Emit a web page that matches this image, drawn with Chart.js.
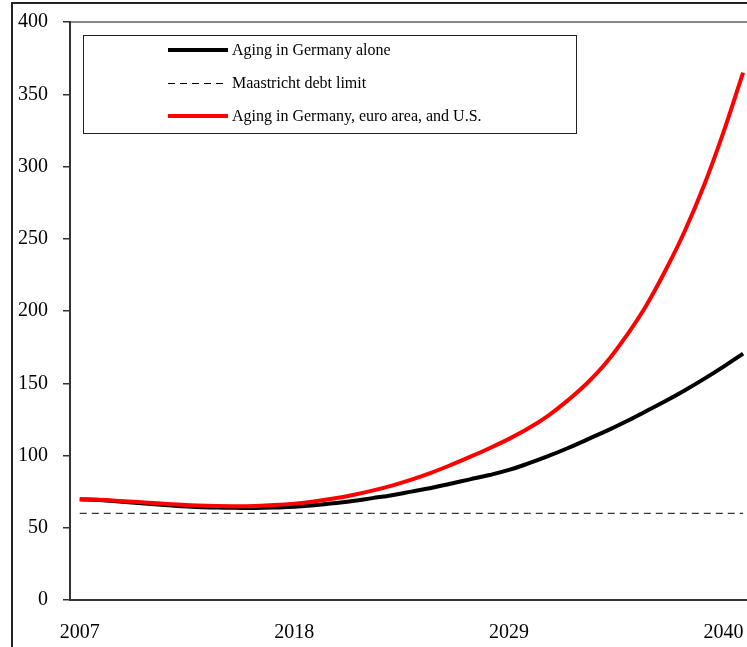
<!DOCTYPE html>
<html>
<head>
<meta charset="utf-8">
<script src="https://cdn.jsdelivr.net/npm/chart.js@4/dist/chart.umd.min.js"></script>
<style>
  html, body { margin: 0; padding: 0; background: #fff; }
  #wrap { position: relative; width: 747px; height: 647px; }
</style>
</head>
<body>
<div id="wrap"><canvas id="c" width="747" height="647"></canvas></div>
<script>
const years = [2007, 2008, 2009, 2010, 2011, 2012, 2013, 2014, 2015, 2016, 2017, 2018,
  2019, 2020, 2021, 2022, 2023, 2024, 2025, 2026, 2027, 2028, 2029, 2030,
  2031, 2032, 2033, 2034, 2035, 2036, 2037, 2038, 2039, 2040, 2041];

const agingGermanyAlone = [69.8, 69.2, 68.2, 67.1, 66.1, 65.1, 64.4, 64.0, 63.8, 63.7, 64.0, 64.5,
  65.5, 67.0, 68.5, 70.5, 72.5, 75.0, 77.5, 80.5, 83.5, 86.5, 90.0, 94.5,
  99.5, 105.0, 111.0, 117.0, 123.5, 130.5, 137.5, 145.0, 153.0, 161.5, 170.5];

const maastrichtLimit = [60, 60, 60, 60, 60, 60, 60, 60, 60, 60, 60, 60,
  60, 60, 60, 60, 60, 60, 60, 60, 60, 60, 60, 60,
  60, 60, 60, 60, 60, 60, 60, 60, 60, 60, 60];

const agingGermanyEuroUS = [69.8, 69.3, 68.6, 67.8, 66.9, 66.1, 65.4, 65.0, 64.9, 65.1, 65.7, 66.7,
  68.2, 70.2, 72.7, 75.7, 79.2, 83.3, 88.0, 93.3, 99.0, 105.0, 111.5, 118.8,
  127.5, 138.0, 150.0, 164.5, 182.5, 203.0, 227.5, 255.0, 287.0, 324.0, 365.0];

const xTickLabels = [2007, 2018, 2029, 2040];
const yTickValues = [0, 50, 100, 150, 200, 250, 300, 350, 400];

const seriesNames = ['Aging in Germany alone', 'Maastricht debt limit', 'Aging in Germany, euro area, and U.S.'];

const FONT = '"Liberation Serif", "Times New Roman", serif';

function pts(vals) { return years.map((y, i) => ({ x: y, y: vals[i] })); }

const framePlugin = {
  id: 'frame',
  beforeDraw(chart) {
    const ctx = chart.ctx, a = chart.chartArea;
    ctx.save();
    ctx.strokeStyle = '#888';
    ctx.lineWidth = 2;
    ctx.beginPath();
    ctx.moveTo(a.left, a.top);
    ctx.lineTo(chart.width, a.top);
    ctx.stroke();
    ctx.strokeStyle = '#222';
    ctx.lineWidth = 2;
    ctx.beginPath();
    ctx.moveTo(12, chart.height);
    ctx.lineTo(12, 3);
    ctx.lineTo(chart.width, 3);
    ctx.stroke();
    ctx.restore();
  },
  afterDraw(chart) {
    const ctx = chart.ctx;
    const bx = 83, by = 35, bw = 493, bh = 98;
    ctx.save();
    ctx.fillStyle = '#fff';
    ctx.fillRect(bx, by, bw, bh);
    ctx.strokeStyle = '#222';
    ctx.lineWidth = 1;
    ctx.strokeRect(bx + 0.5, by + 0.5, bw, bh);
    const rows = [50, 83, 116];
    chart.data.datasets.forEach((ds, i) => {
      const y = rows[i];
      ctx.strokeStyle = ds.borderColor;
      ctx.lineWidth = ds.borderWidth;
      ctx.setLineDash(ds.borderDash || []);
      ctx.lineCap = 'butt';
      ctx.beginPath();
      ctx.moveTo(168, y + (ds.borderWidth % 2 ? 0.5 : 0));
      ctx.lineTo(228, y + (ds.borderWidth % 2 ? 0.5 : 0));
      ctx.stroke();
      ctx.setLineDash([]);
      ctx.fillStyle = '#000';
      ctx.font = '16px ' + FONT;
      ctx.textBaseline = 'middle';
      ctx.textAlign = 'left';
      ctx.fillText(ds.label, 232, y + 1);
    });
    ctx.restore();
  }
};

new Chart(document.getElementById('c'), {
  type: 'line',
  data: {
    datasets: [
      { label: seriesNames[0], data: pts(agingGermanyAlone), borderColor: '#000', borderWidth: 4,
        pointRadius: 0, tension: 0.4, order: 1, fill: false },
      { label: seriesNames[1], data: pts(maastrichtLimit), borderColor: '#000', borderWidth: 1,
        borderDash: [7, 5], pointRadius: 0, order: 2, fill: false },
      { label: seriesNames[2], data: pts(agingGermanyEuroUS), borderColor: '#ff0000', borderWidth: 4,
        pointRadius: 0, tension: 0.4, order: 0, fill: false }
    ]
  },
  options: {
    responsive: false,
    animation: false,
    layout: { padding: { left: 0, right: 0, top: 22, bottom: 0 } },
    plugins: { legend: { display: false }, tooltip: { enabled: false } },
    scales: {
      x: {
        type: 'linear',
        min: 2006.5,
        max: 2041.2,
        afterBuildTicks(scale) { scale.ticks = xTickLabels.map(v => ({ value: v })); },
        afterFit(scale) { scale.height = 47; scale.paddingLeft = 0; scale.paddingRight = 0; },
        grid: { display: false, drawTicks: false },
        border: { display: true, color: '#333', width: 2 },
        ticks: { color: '#000', font: { family: FONT, size: 20 }, padding: 21,
          autoSkip: false, maxRotation: 0, callback: v => String(v) }
      },
      y: {
        min: 0,
        max: 400,
        afterBuildTicks(scale) { scale.ticks = yTickValues.map(v => ({ value: v })); },
        afterFit(scale) { scale.width = 70; scale.paddingTop = 0; scale.paddingBottom = 0; },
        grid: { display: true, drawOnChartArea: false, drawTicks: true, tickLength: 7, color: '#333', lineWidth: 1.5 },
        border: { display: true, color: '#333', width: 2 },
        ticks: { color: '#000', font: { family: FONT, size: 20 }, padding: 15, callback: v => String(v) }
      }
    }
  },
  plugins: [framePlugin]
});
</script>
</body>
</html>
